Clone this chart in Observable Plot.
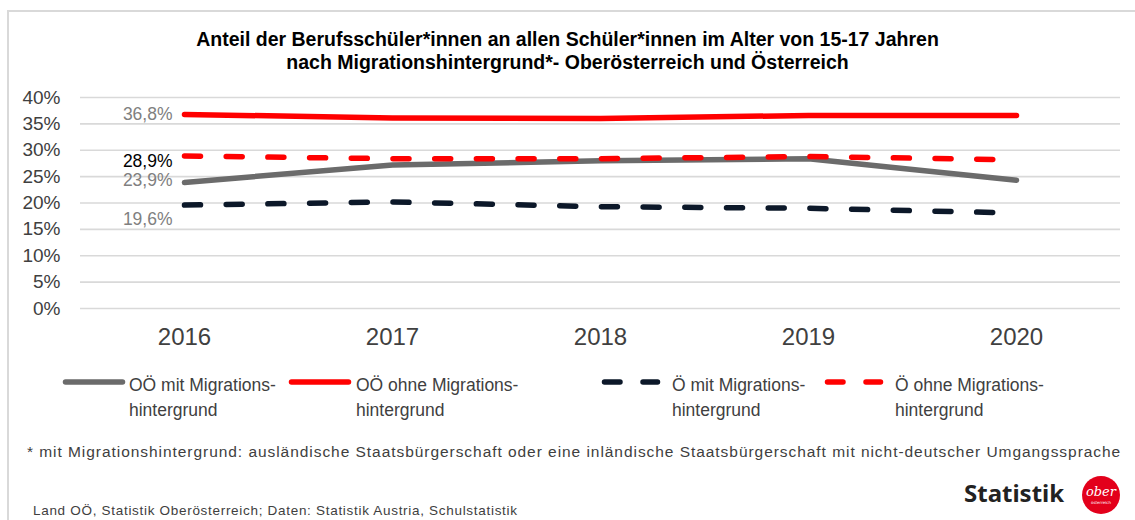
<!DOCTYPE html>
<html>
<head>
<meta charset="utf-8">
<script src="https://cdn.jsdelivr.net/npm/d3@7"></script>
<script src="https://cdn.jsdelivr.net/npm/@observablehq/plot@0.6"></script>
<style>
  html, body { margin: 0; padding: 0; background: #fff; }
  #wrap { position: relative; width: 1135px; height: 520px; overflow: hidden; font-family: "Liberation Sans", Arial, sans-serif; }
  #frame { position: absolute; left: 7px; top: 10px; width: 1200px; height: 600px; border: 2px solid #d9d9d9; }
  #title { position: absolute; left: 0; width: 1135px; top: 28px; text-align: center; font-family: "Liberation Sans", sans-serif; font-weight: bold; font-size: 19.5px; line-height: 23px; color: #000; }
  #chart { position: absolute; left: 0; top: 80px; }
  .leg { position: absolute; top: 373px; font-size: 17.5px; line-height: 25px; color: #404040; }
  .sw { position: absolute; top: 376px; }
  #foot { position: absolute; left: 27px; top: 443px; font-size: 15.5px; letter-spacing: 0.95px; color: #404040; white-space: nowrap; }
  #src { position: absolute; left: 33px; top: 503px; font-size: 13.5px; letter-spacing: 0.7px; color: #404040; white-space: nowrap; }
  #logo { position: absolute; left: 964px; top: 476px; font-family: "Noto Sans", sans-serif; font-weight: bold; font-size: 24px; color: #222; }
  #badge { position: absolute; left: 1081px; top: 475px; }
</style>
</head>
<body>
<div id="wrap">
  <div id="frame"></div>
  <div id="title">Anteil der Berufsschüler*innen an allen Schüler*innen im Alter von 15-17 Jahren<br>nach Migrationshintergrund*- Oberösterreich und Österreich</div>
  <div id="chart"></div>
  <div id="legend"></div>
  <div id="foot">* mit Migrationshintergrund: ausländische Staatsbürgerschaft oder eine inländische Staatsbürgerschaft mit nicht-deutscher Umgangssprache</div>
  <div id="src">Land OÖ, Statistik Oberösterreich; Daten: Statistik Austria, Schulstatistik</div>
  <div id="logo">Statistik</div>
  <svg id="badge" width="40" height="40">
    <circle cx="20" cy="20" r="19" fill="#e3001b"></circle>
    <text x="20" y="21" text-anchor="middle" fill="#fff" font-family="DejaVu Serif" font-style="italic" font-size="13">ober</text>
    <text x="20" y="29" text-anchor="middle" fill="#fff" font-family="DejaVu Sans" font-size="4">österreich</text>
  </svg>
</div>
<script>
// ---- data ----
const years = ["2016", "2017", "2018", "2019", "2020"];
const seriesNames = [
  "OÖ mit Migrationshintergrund",
  "OÖ ohne Migrationshintergrund",
  "Ö mit Migrationshintergrund",
  "Ö ohne Migrationshintergrund"
];
const ooMit   = [23.9, 27.2, 28.0, 28.4, 24.3];
const ooOhne  = [36.8, 36.1, 36.0, 36.6, 36.6];
const oeMit   = [19.6, 20.2, 19.3, 19.0, 18.1];
const oeOhne  = [28.9, 28.4, 28.4, 28.8, 28.2];
const yTicks  = [0, 5, 10, 15, 20, 25, 30, 35, 40];
const legendLines = [
  ["OÖ mit Migrations-", "hintergrund"],
  ["OÖ ohne Migrations-", "hintergrund"],
  ["Ö mit Migrations-", "hintergrund"],
  ["Ö ohne Migrations-", "hintergrund"]
];

// ---- styles (kept separate from data) ----
const styles = [
  {stroke: "#6b6b6b", dash: null, labelFill: "#808080", labelDy: -2},
  {stroke: "#ff0000", dash: null, labelFill: "#808080", labelDy: 0},
  {stroke: "#0c1829", dash: "16,25.7", labelFill: "#808080", labelDy: 14},
  {stroke: "#ff0000", dash: "16,25.7", labelFill: "#000000", labelDy: 5}
];
const legendPos = [
  {sx: 63, sw: 62, tx: 129},
  {sx: 289, sw: 62, tx: 356},
  {sx: 602, sw: 58, tx: 672},
  {sx: 825, sw: 58, tx: 895}
];

const values = [ooMit, ooOhne, oeMit, oeOhne];
const rows = values.map((vals, i) => years.map((y, j) => ({year: y, value: vals[j], series: seriesNames[i]})));

const fmt = v => v.toFixed(1).replace(".", ",") + "%";

const marks = [
  Plot.gridY(yTicks, {stroke: "#d9d9d9", strokeOpacity: 1, strokeWidth: 1.6}),
  Plot.axisY(yTicks, {tickSize: 0, tickPadding: 20, fontSize: 19, tickFormat: d => d + "%", label: null, fill: "#404040"}),
  Plot.axisX({tickSize: 0, tickPadding: 19, fontSize: 24, label: null, fill: "#404040"})
];
rows.forEach((r, i) => {
  const s = styles[i];
  marks.push(Plot.line(r, {
    x: "year", y: "value", stroke: s.stroke, strokeWidth: 5.5,
    strokeLinecap: "round", strokeLinejoin: "round",
    ...(s.dash ? {strokeDasharray: s.dash} : {})
  }));
});
rows.forEach((r, i) => {
  const s = styles[i];
  marks.push(Plot.text([r[0]], {
    x: "year", y: "value", text: d => fmt(d.value), textAnchor: "end",
    dx: -12, dy: s.labelDy, fill: s.labelFill, fontSize: 17.5
  }));
});

const chart = Plot.plot({
  width: 1135, height: 270,
  marginLeft: 80, marginRight: 15, marginTop: 17, marginBottom: 42,
  style: {fontFamily: "'Liberation Sans', Arial, sans-serif", background: "transparent", color: "#404040", overflow: "visible"},
  x: {type: "point", domain: years, padding: 0.5},
  y: {domain: [0, 40]},
  marks
});
document.getElementById("chart").appendChild(chart);

// ---- legend ----
const leg = document.getElementById("legend");
legendLines.forEach((lines, i) => {
  const p = legendPos[i], s = styles[i];
  const svg = d3.select(leg).append("svg").attr("class", "sw")
    .style("left", (p.sx - 4) + "px").attr("width", p.sw + 8).attr("height", 12);
  svg.append("line").attr("x1", 6.5).attr("x2", p.sw + 1.5).attr("y1", 6).attr("y2", 6)
    .attr("stroke", s.stroke).attr("stroke-width", 5.5).attr("stroke-linecap", "round")
    .attr("stroke-dasharray", s.dash ? "15.5,23" : null);
  d3.select(leg).append("div").attr("class", "leg").style("left", p.tx + "px")
    .html(lines.join("<br>"));
});
</script>
</body>
</html>
